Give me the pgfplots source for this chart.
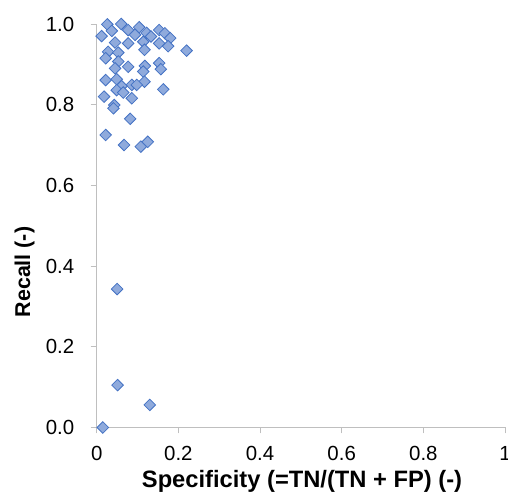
\documentclass[border=0pt]{standalone}
\usepackage{fontspec}
\setmainfont{Liberation Sans}
\usepackage{pgfplots}
\usepackage{pgfplotstable}
\pgfplotsset{compat=1.18}
\definecolor{ptFill}{HTML}{8FAADC}
\definecolor{ptEdge}{HTML}{4472C4}
\definecolor{axGray}{HTML}{BFBFBF}

% specificity / recall pairs
\pgfplotstableread{
spec  rec
0.026 0.999
0.060 1.000
0.012 0.970
0.037 0.983
0.077 0.985
0.104 0.992
0.122 0.978
0.094 0.973
0.114 0.956
0.133 0.969
0.153 0.985
0.167 0.977
0.180 0.965
0.153 0.952
0.175 0.945
0.220 0.934
0.045 0.954
0.077 0.952
0.117 0.936
0.028 0.931
0.053 0.929
0.022 0.915
0.053 0.907
0.077 0.894
0.045 0.890
0.118 0.896
0.153 0.903
0.157 0.888
0.022 0.861
0.049 0.863
0.114 0.882
0.117 0.857
0.163 0.838
0.086 0.849
0.061 0.846
0.098 0.849
0.018 0.820
0.049 0.836
0.065 0.830
0.086 0.816
0.043 0.799
0.041 0.791
0.082 0.765
0.022 0.725
0.067 0.700
0.108 0.696
0.125 0.708
0.050 0.343
0.051 0.105
0.130 0.056
0.015 0.000
}\recalldata

\begin{document}
\begin{tikzpicture}[x=1bp,y=1bp]
\path[use as bounding box] (0,0) rectangle (508,496);
\begin{axis}[
  scale only axis, at={(96.7bp,68.5bp)}, anchor=south west,
  width=408.3bp, height=403.5bp,
  xmin=0, xmax=1, ymin=0, ymax=1,
  xtick={0,0.2,0.4,0.6,0.8,1}, ytick={0,0.2,0.4,0.6,0.8,1},
  axis lines=left, axis line style={axGray,line width=0.9pt,-},
  tick style={axGray,line width=0.9pt}, tick align=outside,
  major tick length=6bp,
  /pgf/number format/assume math mode=true,
  tick label style={font=\fontsize{20.5}{23}\selectfont},
  xticklabel style={yshift=-9bp},
  yticklabel style={xshift=-13bp,/pgf/number format/.cd,fixed,fixed zerofill,precision=1},
  clip=false, enlargelimits=false,
]
\addplot[only marks, mark=square*, mark size=4.1bp,
  mark options={rotate=45,fill=ptFill,draw=ptEdge,line width=0.8pt}]
  table[x=spec,y=rec] {\recalldata};
\end{axis}
\node[anchor=base,font=\bfseries\fontsize{23.8}{26}\selectfont] at (302,8) {Specificity (=TN/(TN + FP) (-)};
\node[anchor=base,rotate=90,font=\bfseries\fontsize{21.5}{24}\selectfont] at (30,224) {Recall (-)};
\end{tikzpicture}
\end{document}
